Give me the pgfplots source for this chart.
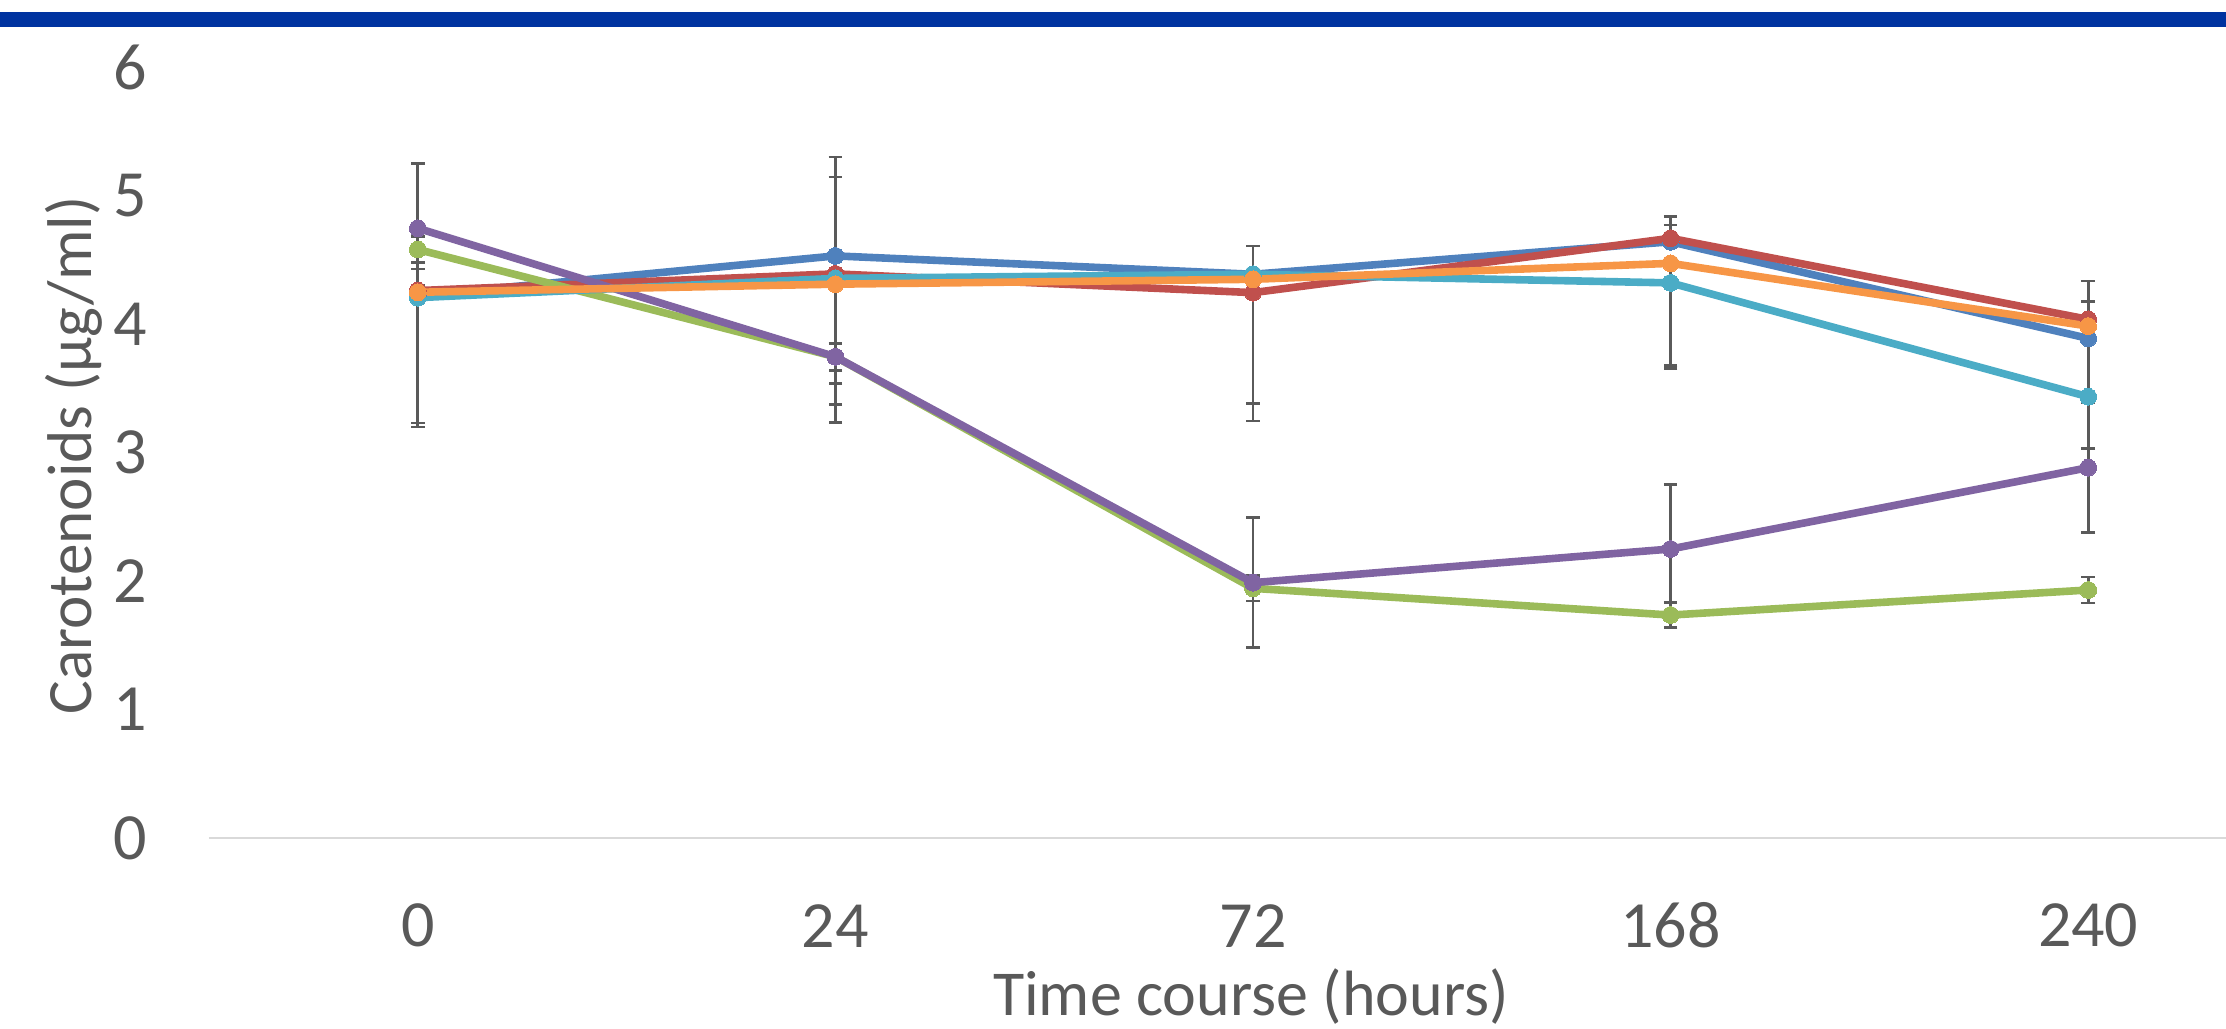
\documentclass[border=0pt]{standalone}
\usepackage{fontspec}
\setmainfont{Carlito}
\usepackage{pgfplots}
\pgfplotsset{compat=1.18}
\usepackage{pgfplotstable}
\definecolor{bandblue}{HTML}{0033A0}
\definecolor{txtgray}{HTML}{595959}
\definecolor{errgray}{HTML}{5A5A5A}
\definecolor{axgray}{HTML}{D9D9D9}
\definecolor{sblue}{HTML}{4F81BD}
\definecolor{sred}{HTML}{C0504D}
\definecolor{sgreen}{HTML}{9BBB59}
\definecolor{spurple}{HTML}{8064A2}
\definecolor{steal}{HTML}{4BACC6}
\definecolor{sorange}{HTML}{F79646}

\pgfplotstableread{
x y ep em
0 4.22 1.03 1.02
1 4.53 0.77 0.77
2 4.387 0.22 0
3 4.64 0.13 0
4 3.888 0 0.855
}\tblue
\pgfplotstableread{
x y ep em
0 4.26 0.99 1.03
1 4.39 0.755 0.755
2 4.244 0 1.0
3 4.667 0.168 0
4 4.036 0.30 0
}\tred
\pgfplotstableread{
x y ep em
0 4.58 0.10 0.10
1 3.745 0.105 0.105
2 1.943 0.10 0.10
3 1.735 0.097 0.097
4 1.93 0.10 0.10
}\tgreen
\pgfplotstableread{
x y ep em
0 4.745 0 0
1 3.745 0 0.21
2 1.987 0.505 0.505
3 2.249 0.503 0.503
4 2.882 0.506 0.506
}\tpurple
\pgfplotstableread{
x y ep em
0 4.205 0.095 0
1 4.355 0 0.98
2 4.387 0 0
3 4.32 0 0.645
4 3.434 0 0
}\tteal
\pgfplotstableread{
x y ep em
0 4.247 0.18 0
1 4.31 0 1.075
2 4.348 0 0.965
3 4.472 0 0.82
4 3.984 0.19 0
}\torange

\pgfplotsset{
  eb/.style={line width=1.9pt, mark=*, mark size=2.1pt,
    mark options={fill=#1, draw=#1, line width=0pt}, color=#1,
    error bars/y dir=both, error bars/y explicit,
    error bars/error bar style={line width=0.65pt, draw=errgray},
    error bars/error mark options={mark size=1.7pt, line width=0.65pt, draw=errgray, rotate=90}},
}

\begin{document}
\begin{tikzpicture}
\useasboundingbox (-52.25pt,-47.5pt) rectangle (504.25pt,209.5pt);
\fill[bandblue] (-52.25pt,202.75pt) rectangle (504.25pt,206.5pt);
\begin{axis}[
  at={(0pt,0pt)}, anchor=south west,
  scale only axis, width=504.25pt, height=192.75pt,
  xmin=-0.5, xmax=4.33, ymin=0, ymax=6,
  xtick={0,1,2,3,4}, xticklabels={0,24,72,168,240},
  ytick={0,1,2,3,4,5,6}, yticklabels={0,1,2,3,4,5,6},
  major tick length=0pt,
  axis x line*=bottom, axis y line*=left,
  x axis line style={-, draw=axgray, line width=0.5pt},
  y axis line style={draw=none},
  tick label style={font=\fontsize{16.5}{20}\selectfont, text=txtgray},
  xticklabel style={anchor=center, inner sep=0pt, yshift=-21.9pt},
  yticklabel style={anchor=east, inner sep=0pt, xshift=-15.25pt},
  xlabel={Time course (hours)},
  ylabel={Carotenoids (µg/ml)},
  xlabel style={at={(axis description cs:0.5166,-0.205)}, anchor=center, font=\fontsize{16}{19}\selectfont, text=txtgray},
  ylabel style={at={(axis description cs:-0.0668,0.496)}, anchor=center, font=\fontsize{15.8}{19}\selectfont, text=txtgray},
  clip=false,
]
\addplot[eb=sblue] table[x=x,y=y,y error plus=ep,y error minus=em]{\tblue};
\addplot[eb=sred] table[x=x,y=y,y error plus=ep,y error minus=em]{\tred};
\addplot[eb=sgreen] table[x=x,y=y,y error plus=ep,y error minus=em]{\tgreen};
\addplot[eb=spurple] table[x=x,y=y,y error plus=ep,y error minus=em]{\tpurple};
\addplot[eb=steal] table[x=x,y=y,y error plus=ep,y error minus=em]{\tteal};
\addplot[eb=sorange] table[x=x,y=y,y error plus=ep,y error minus=em]{\torange};
\end{axis}
\end{tikzpicture}
\end{document}
